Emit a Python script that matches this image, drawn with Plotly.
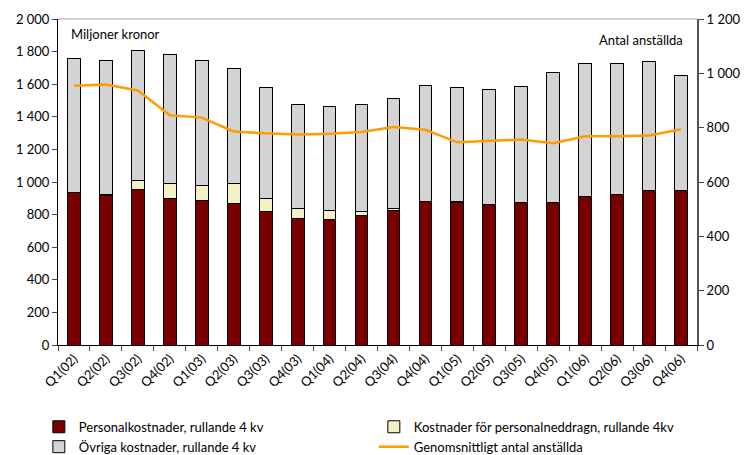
import plotly.graph_objects as go

quarters = ["Q1(02)", "Q2(02)", "Q3(02)", "Q4(02)", "Q1(03)", "Q2(03)", "Q3(03)", "Q4(03)",
            "Q1(04)", "Q2(04)", "Q3(04)", "Q4(04)", "Q1(05)", "Q2(05)", "Q3(05)", "Q4(05)",
            "Q1(06)", "Q2(06)", "Q3(06)", "Q4(06)"]
personal = [933, 915, 952, 898, 886, 870, 818, 777, 770, 795, 824, 882, 876, 863, 873, 873, 911, 925, 945, 950]
neddragn = [5, 8, 58, 92, 95, 120, 80, 63, 55, 23, 12, 0, 3, 0, 0, 0, 0, 0, 0, 0]
totals = [1755, 1748, 1807, 1783, 1744, 1697, 1577, 1474, 1462, 1474, 1513, 1591, 1577, 1566, 1585, 1672, 1726, 1730, 1738, 1656]
ovriga = [t - p - n for t, p, n in zip(totals, personal, neddragn)]
anstallda = [954, 959, 937, 846, 837, 786, 779, 775, 778, 784, 802, 792, 746, 752, 756, 743, 768, 768, 771, 794]

font = "Lato, 'Open Sans', sans-serif"
fig = go.Figure()
line_style = dict(color="black", width=1)
fig.add_trace(go.Bar(x=quarters, y=personal, name="Personalkostnader, rullande 4 kv",
                     marker=dict(color="#7a0000", line=line_style)))
fig.add_trace(go.Bar(x=quarters, y=neddragn, name="Kostnader för personalneddragn, rullande 4kv",
                     marker=dict(color="#f2f0c4", line=line_style)))
fig.add_trace(go.Bar(x=quarters, y=ovriga, name="Övriga kostnader, rullande 4 kv",
                     marker=dict(color="#d3d3d3", line=line_style)))
fig.add_trace(go.Scatter(x=quarters, y=anstallda, name="Genomsnittligt antal anställda",
                         mode="lines", line=dict(color="#ff9c00", width=2.5), yaxis="y2"))

fig.update_layout(
    width=747, height=455,
    margin=dict(l=58, r=50, t=19, b=110, autoexpand=False),
    barmode="stack", bargap=0.6,
    plot_bgcolor="white", paper_bgcolor="white",
    separators=", ",
    font=dict(family=font, size=13, color="black"),
    xaxis=dict(tickangle=-45, ticks="outside", tickson="boundaries", ticklen=5,
               showline=True, linecolor="black", linewidth=1, mirror=False,
               tickfont=dict(size=13), showgrid=False, automargin=False),
    yaxis=dict(range=[0, 2000], dtick=200, tickformat=",d", ticks="outside", ticklen=5,
               showline=True, linecolor="black", linewidth=1, showgrid=False,
               zeroline=False, tickfont=dict(size=13), automargin=False),
    yaxis2=dict(range=[0, 1200], dtick=200, tickformat=",d", overlaying="y", side="right",
                ticks="outside", ticklen=5, showline=True, linecolor="#555555", linewidth=2,
                showgrid=False, zeroline=False, tickfont=dict(size=13), automargin=False),
    legend=dict(orientation="h", x=-0.03, xanchor="left", y=-0.205, yanchor="top",
                entrywidth=290, entrywidthmode="pixels", font=dict(size=13),
                traceorder="normal", itemwidth=30, tracegroupgap=0),
    showlegend=True,
    shapes=[dict(type="line", xref="paper", yref="paper", x0=0, x1=1, y0=1, y1=1,
                 line=dict(color="#a0a0a0", width=1))],
    annotations=[
        dict(text="Miljoner kronor", xref="paper", yref="paper", x=0.017, y=0.955,
             xanchor="left", yanchor="middle", showarrow=False, font=dict(size=13)),
        dict(text="Antal anställda", xref="paper", yref="paper", x=0.982, y=0.935,
             xanchor="right", yanchor="middle", showarrow=False, font=dict(size=13)),
    ],
)
fig.write_html("out.html")
